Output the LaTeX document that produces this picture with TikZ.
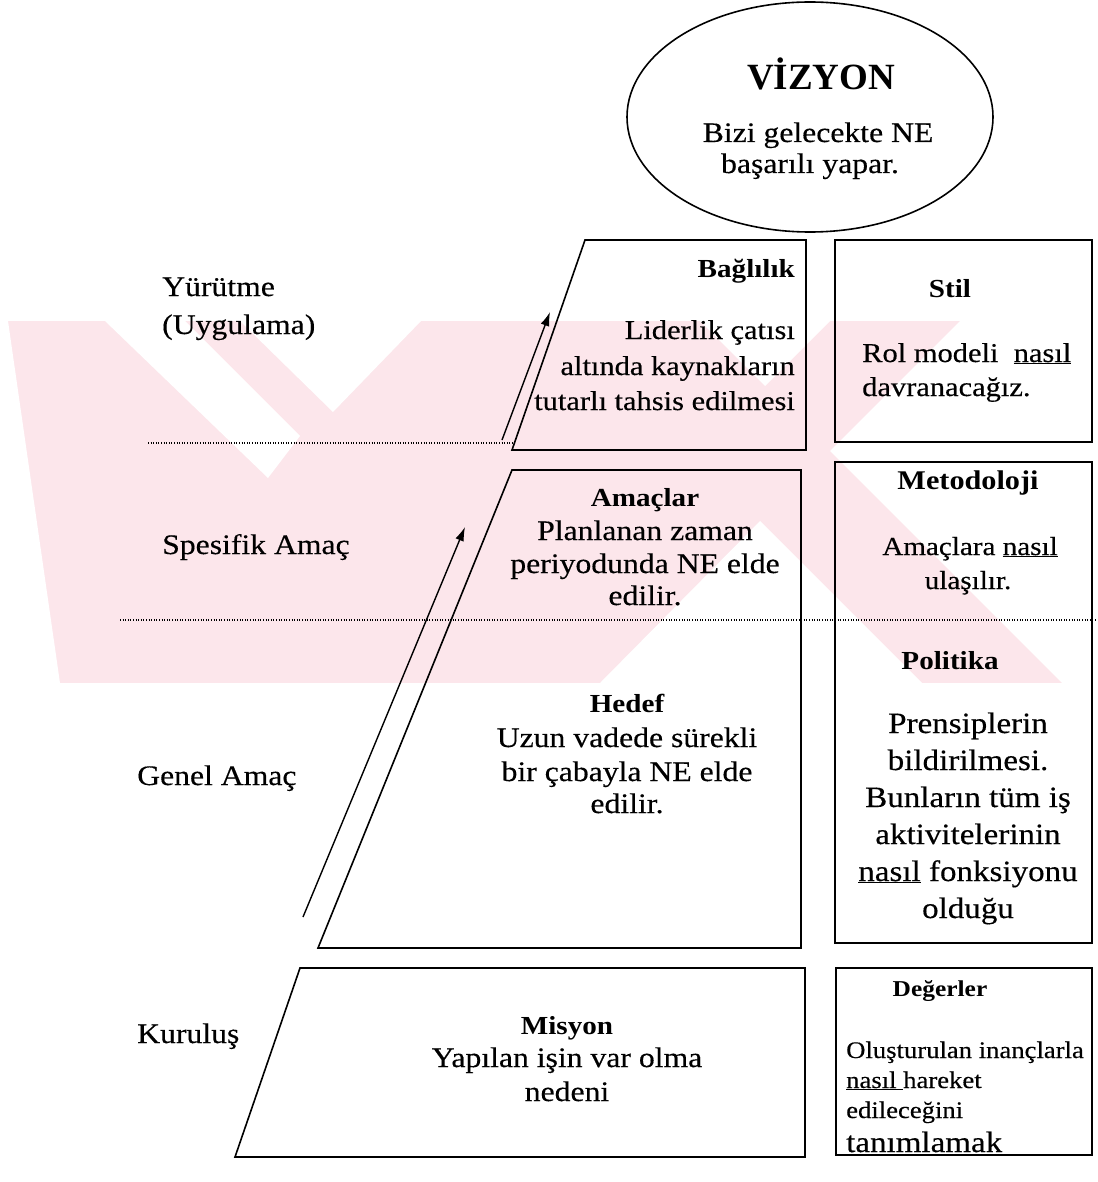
\documentclass[tikz,border=0pt]{standalone}
\usepackage{fontspec}
\setmainfont{Liberation Serif}[FakeStretch=1.12, UprightFeatures={FakeBold=0.35}]
\newfontfamily\plainserif{Liberation Serif}
\usetikzlibrary{shapes.geometric, arrows.meta}
\definecolor{markpink}{HTML}{FCE6EB}

\begin{document}
\begin{tikzpicture}[x=1pt, y=-1pt,
  outline/.style={draw=black, line width=1.6pt, line join=miter},
  guide/.style={draw=black, line width=1.2pt, dash pattern=on 1pt off 1.6pt},
  rise/.style={draw=black, line width=1.4pt, -{Latex[length=14pt,width=9pt]}},
  txt/.style={inner sep=0pt, anchor=base, font=\fontsize{28.3}{32}\selectfont},
  txtl/.style={txt, anchor=base west},
  txtr/.style={txt, anchor=base east},
  head/.style={txt, font=\fontsize{26}{30}\selectfont\bfseries},
]
\useasboundingbox (0,0) rectangle (1097,1182);

% ---- pale background emblem
\fill[markpink] (0,321) rectangle (1097,683);
\fill[white] (0,321) -- (8,321) -- (60,683) -- (0,683) -- cycle;
\fill[white] (105,321) -- (185,321) -- (300,436) -- (268,478) -- cycle;
\fill[white] (240,321) -- (421,321) -- (333,412) -- cycle;
\fill[white] (700,321) -- (830,321) -- (765,386) -- cycle;
\fill[white] (600,683) -- (922,683) -- (760,521) -- cycle;
\fill[white] (960,321) -- (1097,321) -- (1097,683) -- (1062,683) -- (830,451) -- cycle;

% ---- vision ellipse
\node[ellipse, outline, minimum width=366pt, minimum height=230pt, inner sep=0pt] (vision) at (810,117) {};
\node[txt, font=\plainserif\fontsize{37}{40}\selectfont\bfseries] (visT) at (821,90) {VİZYON};
\node[txt] (vis1) at (818,142) {Bizi gelecekte NE};
\node[txt] (vis2) at (810,173) {başarılı yapar.};

% ---- level labels on the left
\node[txtl] (lY1) at (162,296) {Yürütme};
\node[txtl] (lY2) at (162,334) {(Uygulama)};
\node[txtl] (lS) at (162,554) {Spesifik Amaç};
\node[txtl] (lG) at (137,785) {Genel Amaç};
\node[txtl] (lK) at (137,1043) {Kuruluş};

% ---- pyramid blocks
\coordinate (a1) at (585,240); \coordinate (a2) at (806,240);
\coordinate (a3) at (806,450); \coordinate (a4) at (512,450);
\draw[outline] (a1) -- (a2) -- (a3) -- (a4) -- cycle;

\coordinate (b1) at (512,470); \coordinate (b2) at (801,470);
\coordinate (b3) at (801,948); \coordinate (b4) at (318,948);
\draw[outline] (b1) -- (b2) -- (b3) -- (b4) -- cycle;

\coordinate (c1) at (300,968); \coordinate (c2) at (805,968);
\coordinate (c3) at (805,1157); \coordinate (c4) at (235,1157);
\draw[outline] (c1) -- (c2) -- (c3) -- (c4) -- cycle;

% ---- boxes on the right
\draw[outline] (835,240) rectangle (1092,442);
\draw[outline] (835,462) rectangle (1092,943);
\draw[outline] (836,968) rectangle (1092,1155);

% ---- dotted level separators
\coordinate (d1s) at (148,443); \coordinate (d1e) at (514,443);
\draw[guide] (d1s) -- (d1e);
\coordinate (d2s) at (120,620); \coordinate (d2e) at (1097,620);
\draw[guide] (d2s) -- (d2e);

% ---- upward arrows
\coordinate (r1s) at (303,917); \coordinate (r1e) at (465,527);
\draw[rise] (r1s) -- (r1e);
\coordinate (r2s) at (502,440); \coordinate (r2e) at (550,312);
\draw[rise] (r2s) -- (r2e);

% ---- Bağlılık
\node[head, anchor=base east] (hB) at (795,277) {Bağlılık};
\node[txtr, font=\fontsize{27.2}{31}\selectfont] (tB1) at (795,339) {Liderlik çatısı};
\node[txtr, font=\fontsize{27.2}{31}\selectfont] (tB2) at (795,375) {altında kaynakların};
\node[txtr, font=\fontsize{27.2}{31}\selectfont] (tB3) at (795,410) {tutarlı tahsis edilmesi};

% ---- Stil
\node[head] (hS) at (950,297) {Stil};
\node[txtl, font=\fontsize{27.2}{31}\selectfont] (tS1) at (862,362) {Rol modeli\ \ \underline{nasıl}};
\node[txtl, font=\fontsize{27.2}{31}\selectfont] (tS2) at (862,396) {davranacağız.};

% ---- Amaçlar
\node[head] (hA) at (645,506) {Amaçlar};
\node[txt] (tA1) at (645,540) {Planlanan zaman};
\node[txt] (tA2) at (645,573) {periyodunda NE elde};
\node[txt] (tA3) at (645,605) {edilir.};

% ---- Metodoloji
\node[head, font=\fontsize{27}{31}\selectfont\bfseries] (hM) at (968,489) {Metodoloji};
\node[txt, font=\fontsize{26}{30}\selectfont] (tM1) at (970,555) {Amaçlara \underline{nasıl}};
\node[txt, font=\fontsize{26}{30}\selectfont] (tM2) at (968,589) {ulaşılır.};

% ---- Politika
\node[head] (hP) at (950,669) {Politika};
\node[txt, font=\fontsize{29.5}{34}\selectfont] (tP1) at (968,733) {Prensiplerin};
\node[txt, font=\fontsize{29.5}{34}\selectfont] (tP2) at (968,770) {bildirilmesi.};
\node[txt, font=\fontsize{29.5}{34}\selectfont] (tP3) at (968,807) {Bunların tüm iş};
\node[txt, font=\fontsize{29.5}{34}\selectfont] (tP4) at (968,844) {aktivitelerinin};
\node[txt, font=\fontsize{29.5}{34}\selectfont] (tP5) at (968,881) {\underline{nasıl} fonksiyonu};
\node[txt, font=\fontsize{29.5}{34}\selectfont] (tP6) at (968,918) {olduğu};

% ---- Hedef
\node[head] (hH) at (627,712) {Hedef};
\node[txt] (tH1) at (627,747) {Uzun vadede sürekli};
\node[txt] (tH2) at (627,781) {bir çabayla NE elde};
\node[txt] (tH3) at (627,813) {edilir.};

% ---- Misyon
\node[head] (hMi) at (567,1034) {Misyon};
\node[txt] (tMi1) at (567,1067) {Yapılan işin var olma};
\node[txt] (tMi2) at (567,1101) {nedeni};

% ---- Değerler
\node[head, font=\fontsize{22.7}{26}\selectfont\bfseries] (hD) at (940,996) {Değerler};
\node[txtl, font=\fontsize{23.8}{28}\selectfont] (tD1) at (846,1058) {Oluşturulan inançlarla};
\node[txtl, font=\fontsize{23.8}{28}\selectfont] (tD2) at (846,1088) {\underline{nasıl\ }hareket};
\node[txtl, font=\fontsize{23.8}{28}\selectfont] (tD3) at (846,1118) {edileceğini};
\node[txtl, font=\fontsize{29.5}{34}\selectfont] (tD4) at (846,1152) {tanımlamak};
\end{tikzpicture}
\end{document}
